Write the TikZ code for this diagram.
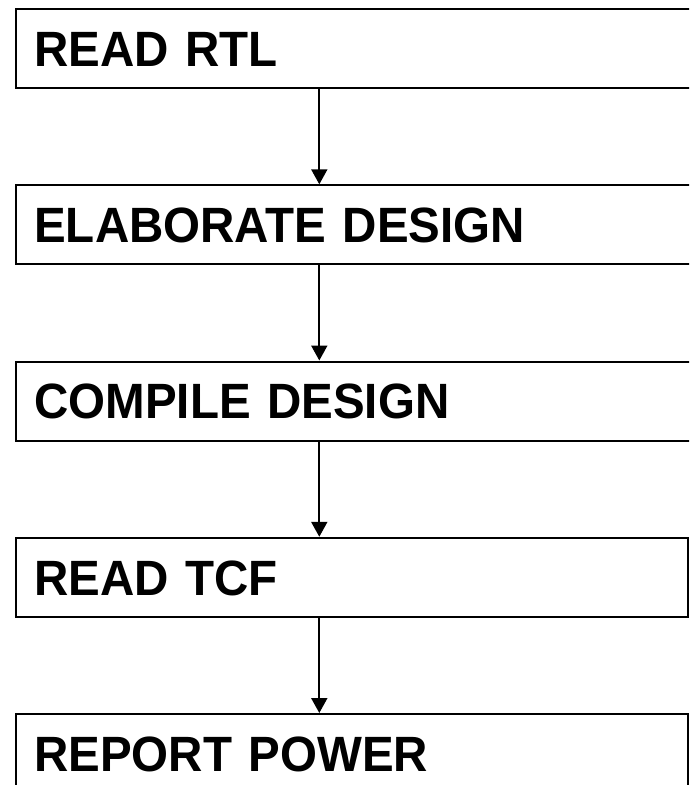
\documentclass[tikz,border=0pt]{standalone}
\usepackage{fontspec}
\setmainfont{Liberation Sans}
\newfontfamily\stagefont[FakeStretch=0.958]{Liberation Sans}
\usetikzlibrary{arrows.meta}
\begin{document}
\begin{tikzpicture}[x=1pt,y=-1pt,
  stage/.style={draw, line width=2pt, rectangle, anchor=north west,
    minimum height=79pt, inner xsep=18pt, inner ysep=0pt,
    text width=#1, align=left,
    font=\stagefont\bfseries\fontsize{49.6}{50}\selectfont,
    text height=35.5pt, text depth=0pt},
  flow/.style={line width=2pt, -{Triangle[length=15pt,width=16pt]}}]
  \useasboundingbox (0,0) rectangle (689,785);
  \begin{scope}
    \clip (0,0) rectangle (689,785);
    % the first three boxes run past the right edge
    \node[stage=670pt] (b1) at (15.3,8)     {READ RTL};
    \node[stage=670pt] (b2) at (15.3,184.3) {ELABORATE DESIGN};
    \node[stage=670pt] (b3) at (15.3,360.5) {COMPILE DESIGN};
    \node[stage=635.7pt] (b4) at (15.3,536.8) {READ TCF};
    \node[stage=635.7pt] (b5) at (15.3,713)   {REPORT POWER};
    \foreach \a/\b in {b1/b2, b2/b3, b3/b4, b4/b5}
      \draw[flow] ([xshift=304pt]\a.south west) -- ([xshift=304pt]\b.north west);
  \end{scope}
\end{tikzpicture}
\end{document}
